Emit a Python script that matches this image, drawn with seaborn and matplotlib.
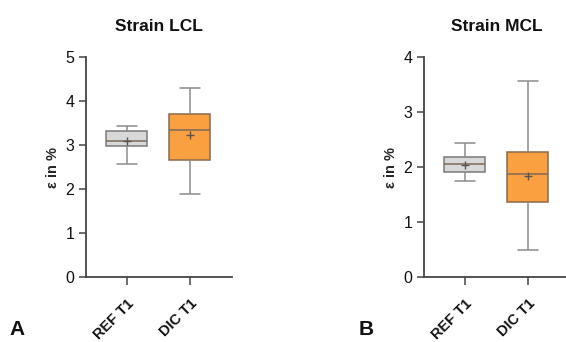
"""Strain boxplots LCL / MCL, REF T1 vs DIC T1."""

import matplotlib.pyplot as plt
import pandas as pd
import seaborn as sns

groups = ["REF T1", "DIC T1"]

# min, q1, median, q3, max
lcl_ref = [2.58, 2.98, 3.09, 3.32, 3.44]
lcl_dic = [1.88, 2.67, 3.34, 3.71, 4.30]
lcl_means = [3.10, 3.24]

mcl_ref = [1.75, 1.91, 2.05, 2.18, 2.44]
mcl_dic = [0.49, 1.37, 1.88, 2.28, 3.56]
mcl_means = [2.04, 1.83]

lcl_ticks = [0, 1, 2, 3, 4, 5]
mcl_ticks = [0, 1, 2, 3, 4]

sns.set_style("ticks")
plt.rcParams["font.family"] = ["Liberation Sans", "DejaVu Sans"]
plt.rcParams["text.color"] = "#111111"
plt.rcParams["xtick.color"] = "#444444"
plt.rcParams["ytick.color"] = "#444444"
plt.rcParams["xtick.labelcolor"] = "#111111"
plt.rcParams["ytick.labelcolor"] = "#111111"

box_colors = {"REF T1": "#d8d8d8", "DIC T1": "#fba040"}
edge_colors = {"REF T1": "#7a7a7a", "DIC T1": "#8a6a4a"}


def panel(ax, ref, dic, means, ticks, title, letter_x, letter):
    df = pd.DataFrame({
        "group": [groups[0]] * len(ref) + [groups[1]] * len(dic),
        "value": ref + dic,
    })
    sns.boxplot(data=df, x="group", y="value", hue="group", palette=box_colors,
                order=groups, whis=(0, 100), width=0.65, linewidth=1.1,
                linecolor="#8c8c8c", saturation=1, showfliers=False,
                legend=False, medianprops={"color": "#7d6a5a"}, ax=ax)
    for patch, g in zip(ax.patches, groups):
        patch.set_edgecolor(edge_colors[g])
    sns.stripplot(x=groups, y=means, order=groups, marker="+", jitter=False,
                  color="#555555", size=6, linewidth=1.0, ax=ax)
    ax.set_ylim(0, ticks[-1])
    ax.set_yticks(ticks)
    ax.set_xlim(-0.65, 1.67)
    ax.set_xlabel("")
    ax.set_ylabel("ε in %", fontsize=10.5, fontweight="bold", labelpad=4)
    ax.set_title(title, fontsize=12.5, fontweight="bold", pad=19)
    ax.set_xticks(range(len(groups)))
    ax.set_xticklabels(groups, rotation=45, ha="right", rotation_mode="anchor",
                       fontsize=10.5, fontweight="bold")
    ax.tick_params(axis="y", labelsize=11.5, length=5, width=1.1)
    ax.tick_params(axis="x", length=6, width=1.1, pad=8)
    for side in ("left", "bottom"):
        ax.spines[side].set_linewidth(1.3)
        ax.spines[side].set_color("#444444")
    sns.despine(ax=ax)
    ax.figure.text(letter_x, 0.02, letter, fontsize=15, fontweight="bold")


fig = plt.figure(figsize=(5.66, 3.42), dpi=100)
ax_a = fig.add_axes([0.152, 0.19, 0.258, 0.643])
ax_b = fig.add_axes([0.749, 0.19, 0.258, 0.643])

panel(ax_a, lcl_ref, lcl_dic, lcl_means, lcl_ticks, "Strain LCL", 0.017, "A")
panel(ax_b, mcl_ref, mcl_dic, mcl_means, mcl_ticks, "Strain MCL", 0.633, "B")

fig.savefig("out.png", dpi=100)
